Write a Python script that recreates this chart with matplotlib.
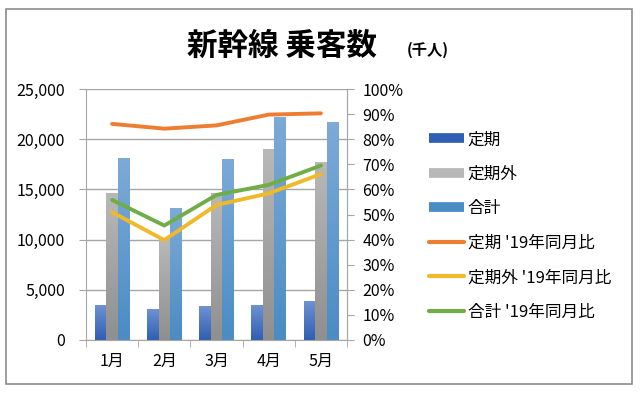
import numpy as np
import matplotlib.pyplot as plt
from matplotlib.lines import Line2D
from matplotlib.patches import Rectangle
from matplotlib.colors import LinearSegmentedColormap
from matplotlib.ticker import FuncFormatter, MultipleLocator

plt.rcParams['font.family'] = ['Noto Sans CJK JP', 'DejaVu Sans']

months = ['1月', '2月', '3月', '4月', '5月']
teiki = [3450, 3050, 3300, 3480, 3870]
teikigai = [14550, 10000, 14550, 19000, 17700]
goukei = [18050, 13100, 18000, 22200, 21650]
teiki_ratio = [86.1, 84.2, 85.5, 89.8, 90.3]
teikigai_ratio = [50.9, 39.8, 53.8, 58.4, 66.1]
goukei_ratio = [55.8, 45.6, 57.8, 61.8, 69.5]

# (top colour, bottom colour) for the gradient bars
c_teiki = ('#6E91D2', '#2F5FB3')
c_gai = ('#B8B8B8', '#8F8F8F')
c_sum = ('#7DAAD7', '#4A8CC4')
c_or = '#ED7D31'
c_ye = '#F0B92A'
c_gr = '#70AD47'
gridc = '#A6A6A6'

fig = plt.figure(figsize=(6.4, 3.94), dpi=100)
fig.patches.append(Rectangle((6/640, 1-384/394), 626/640, 375/394, transform=fig.transFigure,
                             fill=False, edgecolor='#8C8C8C', lw=1.2))

ax = fig.add_axes([86/640, 1-340/394, 261/640, 251/394])
x = np.arange(len(months))
w = 0.22
grad = np.linspace(1, 0, 64).reshape(-1, 1)
for off, vals, cols in [(-w, teiki, c_teiki), (0, teikigai, c_gai), (w, goukei, c_sum)]:
    bars = ax.bar(x + off, vals, w, color=cols[0], zorder=2)
    cmap = LinearSegmentedColormap.from_list('g', [cols[1], cols[0]])
    for b in bars:
        ax.imshow(grad, extent=[b.get_x(), b.get_x() + b.get_width(), 0, b.get_height()],
                  aspect='auto', cmap=cmap, vmin=0, vmax=1, zorder=2.1)
ax.set_xlim(-0.5, len(months) - 0.5)
ax.set_ylim(0, 25000)
ax.yaxis.set_major_locator(MultipleLocator(5000))
ax.yaxis.set_major_formatter(FuncFormatter(lambda v, p: f'{int(v):,}'))
ax.grid(axis='y', color=gridc, lw=1, zorder=0)
ax.set_xticks(x)
ax.set_xticklabels(months, fontsize=11.5)
ax.set_xticks(np.arange(-0.5, len(months)), minor=True)
ax.tick_params(axis='x', which='major', length=0, pad=9)
ax.tick_params(axis='x', which='minor', length=5, color=gridc, direction='out')
ax.tick_params(axis='y', length=5, color=gridc, labelsize=11.5, pad=10)
ax.spines['top'].set_visible(False)
for s in ['left', 'right', 'bottom']:
    ax.spines[s].set_color(gridc)

ax2 = ax.twinx()
ax2.plot(x, teiki_ratio, color=c_or, lw=2.8, solid_capstyle='round')
ax2.plot(x, teikigai_ratio, color=c_ye, lw=2.8, solid_capstyle='round')
ax2.plot(x, goukei_ratio, color=c_gr, lw=2.8, solid_capstyle='round')
ax2.set_ylim(0, 100)
ax2.yaxis.set_major_locator(MultipleLocator(10))
ax2.yaxis.set_major_formatter(FuncFormatter(lambda v, p: f'{int(v)}%'))
ax2.tick_params(axis='y', length=5, color=gridc, labelsize=11.5, pad=6)
for s in ['top', 'left', 'bottom']:
    ax2.spines[s].set_visible(False)
ax2.spines['right'].set_color(gridc)

fig.text(282/640, 1-46/394, '新幹線 乗客数', fontsize=22, fontweight='bold', ha='center', va='center')
fig.text(428/640, 1-50/394, '(千人)', fontsize=11, fontweight='bold', ha='center', va='center')

handles = [
    Line2D([], [], color=c_teiki[1], lw=7, solid_capstyle='butt'),
    Line2D([], [], color=c_gai[0], lw=7, solid_capstyle='butt'),
    Line2D([], [], color=c_sum[1], lw=7, solid_capstyle='butt'),
    Line2D([], [], color=c_or, lw=3, solid_capstyle='round'),
    Line2D([], [], color=c_ye, lw=3, solid_capstyle='round'),
    Line2D([], [], color=c_gr, lw=3, solid_capstyle='round'),
]
labels = ['定期', '定期外', '合計', "定期 '19年同月比", "定期外 '19年同月比", "合計 '19年同月比"]
fig.legend(handles, labels, loc='center left', bbox_to_anchor=(421/640, 1-226/394),
           frameon=False, fontsize=12, handlelength=2.1, handletextpad=0.2,
           labelspacing=1.05, borderpad=0)

fig.savefig('out.png', dpi=100)
